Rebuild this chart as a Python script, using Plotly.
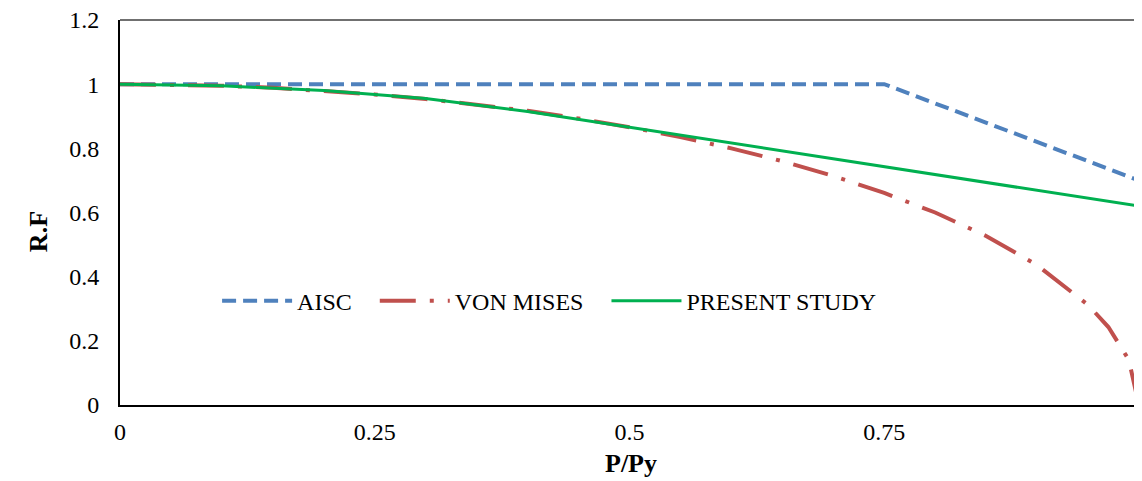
import plotly.graph_objects as go

# P/Py values and reduction factors
aisc_x = [0, 0.75, 1.0]
aisc_y = [1.0, 1.0, 0.70]

mises_x = [0, 0.05, 0.1, 0.15, 0.2, 0.25, 0.3, 0.35, 0.4, 0.45, 0.5,
           0.55, 0.6, 0.65, 0.7, 0.75, 0.8, 0.85, 0.9, 0.95, 0.97, 0.99, 1.0]
mises_y = [1.0, 0.999, 0.995, 0.989, 0.980, 0.968, 0.954, 0.937, 0.917, 0.893, 0.866,
           0.835, 0.800, 0.760, 0.714, 0.661, 0.600, 0.527, 0.436, 0.312, 0.243, 0.141, 0.0]

present_x = [0, 0.1, 0.2, 0.3, 0.4, 0.5, 1.0]
present_y = [1.0, 0.995, 0.980, 0.955, 0.915, 0.866, 0.62]

x_ticks = [0, 0.25, 0.5, 0.75, 1]
x_labels = ["0", "0.25", "0.5", "0.75", "1"]
y_ticks = [0, 0.2, 0.4, 0.6, 0.8, 1, 1.2]
y_labels = ["0", "0.2", "0.4", "0.6", "0.8", "1", "1.2"]

FONT = "Liberation Serif, Times New Roman, serif"
GAP = "\u00a0\u00a0\u00a0"  # extra room between legend entries

fig = go.Figure()
fig.add_trace(go.Scatter(x=aisc_x, y=aisc_y, mode="lines", name="AISC" + GAP,
                         line=dict(color="#4F81BD", width=4, dash="14px,7px")))
fig.add_trace(go.Scatter(x=mises_x, y=mises_y, mode="lines", name="VON MISES" + GAP,
                         line=dict(color="#C0504D", width=4, dash="36px,14px,4px,14px")))
fig.add_trace(go.Scatter(x=present_x, y=present_y, mode="lines", name="PRESENT STUDY",
                         line=dict(color="#00B050", width=3)))

# the page body keeps its default 8px margin, so the figure is 8px smaller
fig.update_layout(
    width=1134, height=473,
    margin=dict(l=112, r=0, t=12, b=76),
    paper_bgcolor="white", plot_bgcolor="white",
    font=dict(family=FONT, size=24, color="black"),
    legend=dict(orientation="h", x=0.095, y=0.27, xanchor="left", yanchor="middle",
                bgcolor="rgba(0,0,0,0)", font=dict(size=24), itemwidth=70),
    xaxis=dict(range=[0, 1.003], tickvals=x_ticks, ticktext=x_labels, automargin=False,
               showgrid=False, zeroline=False, showline=True, linecolor="black",
               linewidth=2, ticks="", ticklabelstandoff=4,
               ticklabeloverflow="allow",
               title=dict(text="<b>P/Py</b>", font=dict(size=26), standoff=10)),
    yaxis=dict(range=[0, 1.2], tickvals=y_ticks, ticktext=y_labels, automargin=False,
               showgrid=False, zeroline=False, showline=True, linecolor="black",
               linewidth=2, ticks="", ticklabelstandoff=14,
               ticklabeloverflow="allow"),
)

# thin dark-grey frame along the top of the plot area
fig.add_shape(type="line", xref="paper", yref="paper", x0=0, x1=1, y0=1, y1=1,
              line=dict(color="#404040", width=1.5))

# y title sits a little below the middle of the axis in the original
fig.add_annotation(text="<b>R.F</b>", xref="paper", yref="paper", x=-0.096, y=0.45,
                   textangle=-90, showarrow=False, font=dict(size=26))

fig.write_html("out.html")
